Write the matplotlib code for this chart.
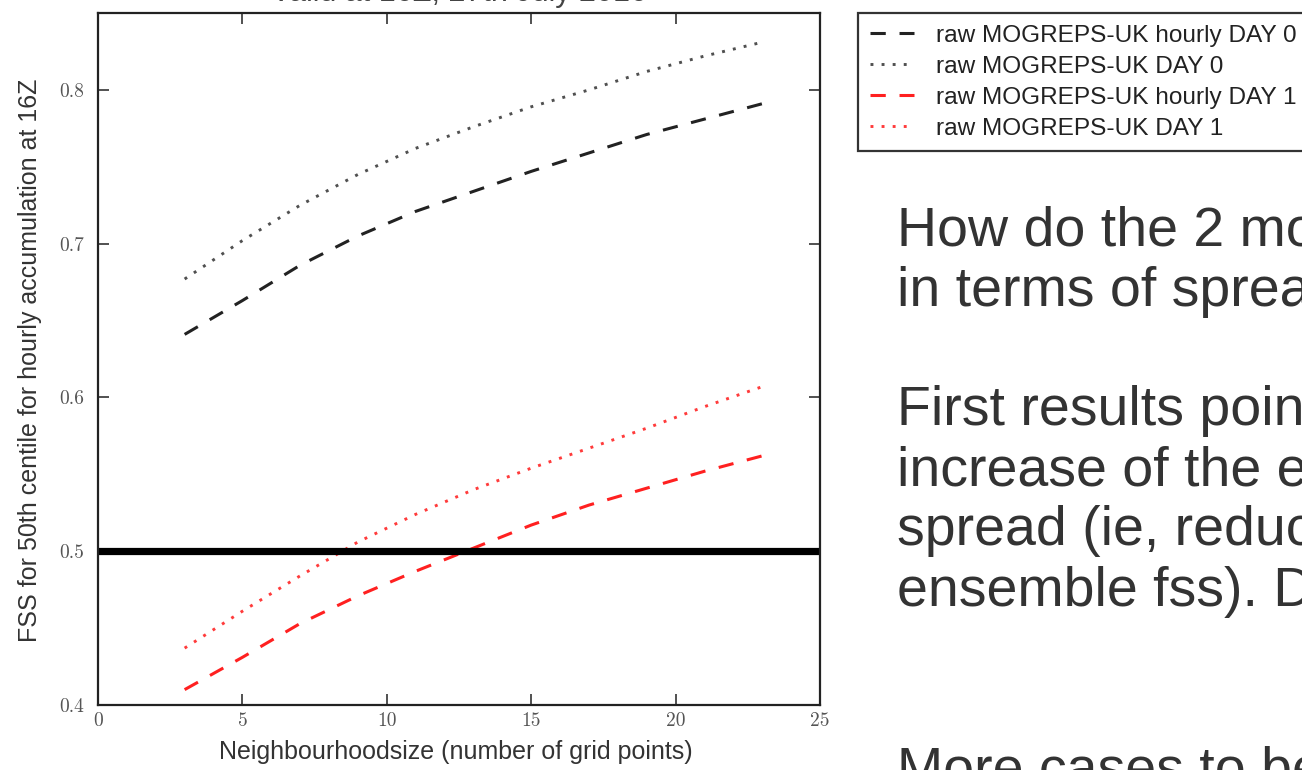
import matplotlib
matplotlib.use('Agg')
import matplotlib.pyplot as plt

# ---- data ----
neigh = [3, 5, 7, 9, 11, 13, 15, 17, 19, 21, 23]
hourly_day0 = [0.641, 0.663, 0.686, 0.705, 0.721, 0.734, 0.747, 0.759, 0.771, 0.781, 0.791]
day0 = [0.677, 0.702, 0.725, 0.745, 0.762, 0.776, 0.789, 0.800, 0.812, 0.822, 0.831]
hourly_day1 = [0.410, 0.431, 0.453, 0.471, 0.487, 0.502, 0.517, 0.530, 0.541, 0.552, 0.562]
day1 = [0.437, 0.461, 0.484, 0.506, 0.524, 0.540, 0.554, 0.567, 0.580, 0.594, 0.607]
series_labels = ["raw MOGREPS-UK hourly DAY 0", "raw MOGREPS-UK DAY 0",
                 "raw MOGREPS-UK hourly DAY 1", "raw MOGREPS-UK DAY 1"]
threshold = 0.5
xticks = [0, 5, 10, 15, 20, 25]
xtick_labels = ["0", "5", "10", "15", "20", "25"]
yticks = [0.4, 0.5, 0.6, 0.7, 0.8]
ytick_labels = ["0.4", "0.5", "0.6", "0.7", "0.8"]
title = "Valid at 16Z, 27th July 2016"
xlabel = "Neighbourhoodsize (number of grid points)"
ylabel = "FSS for 50th centile for hourly accumulation at 16Z"
slide_lines = ["How do the 2 mo", "in terms of sprea", "First results poin",
               "increase of the e", "spread (ie, reduc", "ensemble fss). D",
               "More cases to be"]

W, H = 1302, 770
fig = plt.figure(figsize=(W / 100, H / 100), dpi=100)
ax = fig.add_axes([98 / W, 1 - 705 / H, (820 - 98) / W, (705 - 13) / H])

dash = (0, (5, 4.5))
dot = (0, (1, 2.8))
l1, = ax.plot(neigh, hourly_day0, color='#222222', lw=2.2, linestyle=dash)
l2, = ax.plot(neigh, day0, color='#505050', lw=2.1, linestyle=dot)
l3, = ax.plot(neigh, hourly_day1, color='#ff2020', lw=2.2, linestyle=dash)
l4, = ax.plot(neigh, day1, color='#ff3b3b', lw=2.1, linestyle=dot)
ax.axhline(threshold, color='black', lw=5.2)

ax.set_xlim(0, 25)
ax.set_ylim(0.4, 0.85)
ax.set_xticks(xticks)
ax.set_xticklabels(xtick_labels, family='cmr10', fontsize=14, color='#555555')
ax.set_yticks(yticks)
ax.set_yticklabels(ytick_labels, family='cmr10', fontsize=14, color='#555555')
ax.tick_params(direction='in', length=8, width=1.2, top=True, right=True, color='#333333')
ax.tick_params(axis='x', pad=5)
ax.tick_params(axis='y', pad=10)
for s in ax.spines.values():
    s.set_linewidth(1.6)
    s.set_color('#222222')

fig.text(459 / W, 1 - 1 / H, title, ha='center', va='baseline',
         fontsize=22, color='#444444', family='Liberation Sans')
fig.text(30 / W, 1 - 360 / H, ylabel, rotation=90, ha='center', va='center',
         fontsize=18, color='#333333', family='Liberation Sans')
fig.text(456 / W, 1 - 752 / H, xlabel, ha='center', va='center',
         fontsize=18, color='#333333', family='Liberation Sans')

leg = fig.legend([l1, l2, l3, l4], series_labels, loc='upper left',
                 bbox_to_anchor=(858 / W, 1 - 13 / H), frameon=True, fancybox=False,
                 edgecolor='#333333', framealpha=1, borderaxespad=0,
                 prop={'family': 'Liberation Sans', 'size': 17.6},
                 handlelength=1.8, handletextpad=0.9, labelspacing=0.36, borderpad=0.48)
leg.get_frame().set_linewidth(1.6)
for t in leg.get_texts():
    t.set_color('#222222')

baselines = [246, 306, 425, 485, 545, 606, 786]
for txt, b in zip(slide_lines, baselines):
    fig.text(897 / W, 1 - b / H, txt, ha='left', va='baseline', fontsize=40,
             color='#333333', family='Liberation Sans')

fig.savefig('out.png', dpi=100)
